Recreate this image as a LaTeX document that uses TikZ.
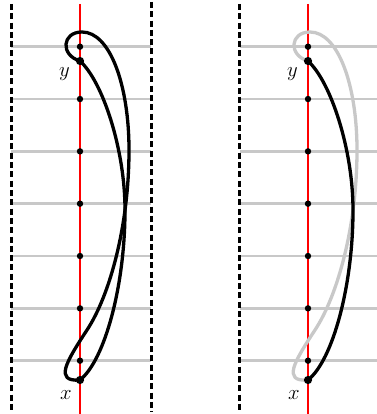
\documentclass[tikz,border=0pt]{standalone}
\usepackage{xcolor}
\definecolor{lgray}{RGB}{200,200,200}
\definecolor{myred}{RGB}{255,0,0}
\begin{document}
\begin{tikzpicture}[x=1pt,y=-1pt,
  gridline/.style={draw=lgray,line width=2.6pt},
  axisline/.style={draw=myred,line width=1.1pt},
  wall/.style={draw=black,line width=3pt,dash pattern=on 6pt off 3.3pt},
  curveA/.style={draw=black,line width=3.3pt},
  curveB/.style={line width=3.3pt},
  smalldot/.style={circle,fill=black,inner sep=0pt,minimum size=6.4pt},
  bigdot/.style={circle,fill=black,inner sep=0pt,minimum size=8.2pt},
  lbl/.style={font=\fontsize{22}{26}\selectfont,inner sep=0pt}
]
\useasboundingbox (0,0) rectangle (376,414);

\newcommand{\drawpanel}[4]{%
  % #1 prefix, #2 color of path B, #3 grid left end, #4 grid right end
  \foreach \k in {0,...,6}{
    \draw[gridline] (#3,46.7+52.33*\k) -- (#4,46.7+52.33*\k);
  }
  \draw[axisline] (80,4) -- (80,414);
  \coordinate (#1Y) at (80,61);
  \coordinate (#1X) at (80,380);
  \draw[curveB,draw=#2] (#1Y) .. controls (60,55) and (62,32) .. (82,32)
     .. controls (110,32) and (129,85) .. (129,150)
     .. controls (129,225) and (110,295) .. (87,330)
     .. controls (66,362) and (54,382) .. (#1X);
  \draw[curveA] (#1Y) .. controls (103,82) and (125,150) .. (125,210)
     .. controls (125,285) and (105,360) .. (#1X);
  \foreach \k in {0,...,6}{
    \node[smalldot] (#1d\k) at (80,46.7+52.33*\k) {};
  }
  \node[bigdot] (#1ydot) at (#1Y) {};
  \node[bigdot] (#1xdot) at (#1X) {};
  \node[lbl] (#1ylab) at (64.5,74) {$y$};
  \node[lbl] (#1xlab) at (66,395.5) {$x$};
}

\begin{scope}
  \drawpanel{L}{black}{11}{151}
\end{scope}
\begin{scope}[xshift=228pt]
  \drawpanel{R}{lgray}{12}{160}
\end{scope}

\draw[wall] (11,4) -- (11,412);
\draw[wall] (151,2) -- (151,412);
\draw[wall] (239,4) -- (239,412);
\end{tikzpicture}
\end{document}
